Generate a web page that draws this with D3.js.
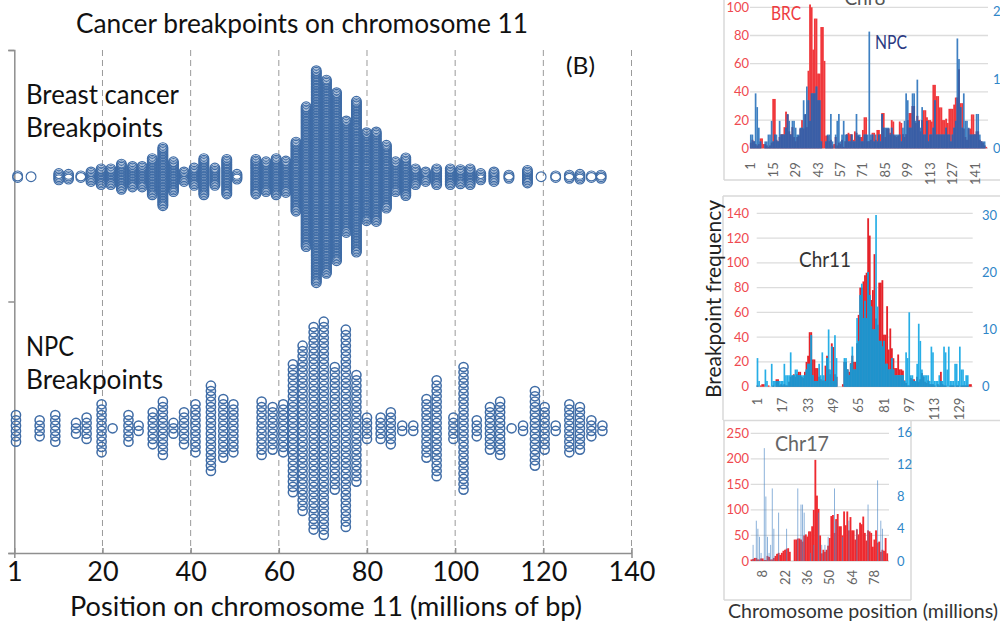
<!DOCTYPE html>
<html><head><meta charset="utf-8">
<script src="https://cdn.jsdelivr.net/npm/d3@7/dist/d3.min.js"></script>
<style>html,body{margin:0;padding:0;background:#fff;overflow:hidden}svg{display:block}text{font-family:Lato,"Open Sans",sans-serif}</style>
</head><body><svg id="c" width="1000" height="622"></svg>
<script>
// Main dot plot: column position (millions of bp) and number of breakpoints stacked in it
const brcPos=[0.76,3.8,10.1,12.3,15.1,17.4,19.7,21.9,24.3,26.8,29.0,31.3,33.7,36.1,38.5,40.8,43.0,45.5,48.2,50.5,54.8,57.1,59.4,61.6,63.9,66.2,68.5,70.8,73.1,75.3,77.6,79.9,82.1,84.4,86.5,88.8,91.0,93.3,95.8,98.9,101.2,103.4,105.8,108.8,112.2,116.4,119.5,122.8,125.9,128.3,130.9,133.1];
const brcCount=[2,1,5,4,2,7,11,11,17,14,14,24,38,20,7,12,24,12,23,4,23,20,24,21,45,90,136,124,108,72,97,57,58,41,20,25,11,7,11,11,10,11,5,7,3,9,1,2,3,4,2,3];
const npcPos=[0.38,5.75,9.3,14.0,16.4,19.8,22.3,25.9,28.2,31.4,33.7,36.1,38.5,41.1,44.6,47.4,49.7,56.1,58.6,61.0,63.2,65.4,67.9,70.2,72.7,75.2,77.6,80.0,83.1,85.4,88.0,90.5,93.5,95.8,99.6,101.9,104.9,107.9,110.2,112.8,115.4,118.1,120.3,122.8,125.9,128.3,130.9,133.4];
const npcCount=[6,4,6,3,5,10,1,6,2,7,11,3,7,10,17,12,10,11,9,10,25,32,39,41,24,38,21,5,5,7,2,2,12,19,5,24,4,9,11,1,2,15,9,2,10,9,4,2];
const xTickValues=[0,20,40,60,80,100,120,140];
const xTickLabels=["1","20","40","60","80","100","120","140"];

// Chr8 panel
const chr8Red=[4,6,5,3,2,3,7,7,3,3,2,1,2,4,35,35,6,5,8,10,10,15,26,24,12,10,15,8,5,8,9,14,20,14,24,15,55,102,100,70,92,92,53,53,86,86,62,9,9,5,6,2,3,8,2,4,3,6,1,5,10,11,10,10,6,12,11,9,8,8,13,22,22,5,5,6,11,11,6,13,13,10,25,25,8,14,14,11,20,19,9,8,9,19,18,10,8,10,20,25,25,30,30,18,23,20,12,20,27,27,22,20,20,19,45,45,37,37,29,29,20,20,21,18,28,28,28,31,36,36,56,32,32,14,8,6,14,14,24,24,10,12,12,6,5,4,2,1];
const chr8Blue=[2,2,1,8,6,3,1,0,0,1,1,2,2,4,1,2,2,1,4,2,2,2,3,5,4,2,4,4,3,2,2,3,3,7,5,9,7,4,8,8,8,9,7,7,1,0,0,1,2,2,5,1,0,2,4,5,1,2,4,2,2,1,1,2,1,1,5,2,2,1,1,2,2,2,17,2,2,1,2,1,2,1,5,3,3,3,3,2,3,2,2,2,2,2,1,3,4,8,7,3,3,8,8,4,10,4,3,6,2,2,4,1,2,2,3,7,2,2,2,2,2,2,3,2,2,1,2,3,4,16,13,6,3,8,4,4,3,2,2,2,2,5,5,2,1,1,1,0];
const chr8RedTicks=[0,20,40,60,80,100], chr8BlueTicks=[0,10,20], chr8Cats=[1,15,29,43,57,71,85,99,113,127,141];
// Chr11 panel
const chr11Red=[1,0,1,2,2,0,0,1,0,0,1,0,6,6,1,2,1,2,1,1,4,8,9,10,8,10,12,12,8,7,12,20,25,44,44,22,22,15,15,8,6,5,5,17,25,14,10,35,32,10,8,0,0,0,2,20,20,14,12,19,25,20,20,35,58,80,80,85,90,92,136,122,70,78,107,55,50,84,84,86,42,42,65,30,47,31,23,15,15,26,14,14,13,5,3,1,1,7,6,6,4,8,4,6,11,8,4,3,5,2,2,2,1,0,2,1,12,2,1,1,0,0,1,1,1,0,1,1,0,1,1,1,1,1,2,2];
const chr11Blue=[5,1,0,0,0,3,1,0,0,4,1,1,1,1,1,1,1,4,2,2,2,6,2,2,3,3,2,2,2,2,2,3,4,4,9,2,1,1,1,4,2,6,2,1,5,10,3,7,1,9,5,0,0,0,0,5,5,3,2,4,7,3,3,12,8,16,18,12,15,12,20,16,14,10,10,30,14,8,8,7,8,4,4,3,3,5,3,2,2,2,2,2,2,1,6,5,13,2,2,1,1,4,11,8,3,2,2,2,2,1,7,6,1,1,1,2,1,1,7,6,3,7,1,1,1,4,4,1,7,3,3,1,2,2,0,0];
const chr11RedTicks=[0,20,40,60,80,100,120,140], chr11BlueTicks=[0,10,20,30], chr11Cats=[1,17,33,49,65,81,97,113,129];
// Chr17 panel
const chr17Red=[3,4,6,6,3,3,5,5,2,2,10,8,3,3,6,10,14,16,12,16,20,22,24,25,18,0,0,42,42,44,44,42,38,50,52,48,58,58,68,100,198,128,102,50,15,22,18,22,30,45,88,90,55,82,92,68,68,50,97,70,97,60,86,60,60,42,62,52,75,72,87,55,40,60,58,55,28,42,60,36,38,18,22,20,45,15];
const chr17Blue=[0,2,0,5,4,3,1,0,14,8,3,1,2,9,4,0,0,6,0,0,0,0,4,0,0,0,0,0,0,9,0,7,7,6,0,0,0,1,0,2,0,0,6,0,2,0,2,0,3,0,0,0,9,5,0,0,0,3,0,0,0,5,0,0,0,0,4,0,0,0,0,0,0,7,0,0,0,0,0,10,0,5,4,0,0,0];
const chr17RedTicks=[0,50,100,150,200,250], chr17BlueTicks=[0,4,8,12,16], chr17Cats=[8,22,36,50,64,78];

const svg=d3.select("#c");
const x=d3.scaleLinear().domain([0,140]).range([14.3,631.5]);
const AXIS_BOTTOM=553, AXIS_TOP=50;
const INK="#111", GRID="#9a9a9a", DOT="#3f6ca6";

// grid and axes of the main plot
svg.append("g").selectAll("line").data(xTickValues.slice(1)).join("line")
  .attr("x1",d=>x(d)).attr("x2",d=>x(d)).attr("y1",AXIS_TOP).attr("y2",AXIS_BOTTOM)
  .attr("stroke",GRID).attr("stroke-width",1).attr("stroke-dasharray","6 4");
const yFrame=d3.scaleLinear().domain([0,2]).range([AXIS_BOTTOM,AXIS_TOP]);
const axL=svg.append("g").attr("transform",`translate(${x(0)},0)`)
  .call(d3.axisLeft(yFrame).tickValues([0,1,2]).tickSize(6).tickFormat(""));
axL.selectAll("path,line").attr("stroke","#8f8f8f").attr("stroke-width",1.5);
const axB=svg.append("g").attr("transform",`translate(0,${AXIS_BOTTOM})`)
  .call(d3.axisBottom(x).tickValues(xTickValues).tickSize(5).tickFormat((d,i)=>xTickLabels[i]));
axB.selectAll("path,line").attr("stroke","#8f8f8f").attr("stroke-width",1.5);
axB.selectAll("text").attr("fill",INK).attr("font-size",27).attr("y",28).attr("dy",0);
axB.selectAll(".tick line").attr("transform","translate(0,-5)");

function swarm(pos,count,center,step,sw,r){
  const rows=pos.flatMap((p,i)=>d3.range(count[i]).map(k=>({p,off:k-(count[i]-1)/2})));
  const y=d3.scaleLinear().domain([0,1]).range([center,center+step]);
  svg.append("g").selectAll("circle").data(rows).join("circle")
    .attr("cx",d=>x(d.p)).attr("cy",d=>y(d.off)).attr("r",r)
    .attr("fill","none").attr("stroke",DOT).attr("stroke-width",sw);
}
swarm(brcPos,brcCount,176.7,1.57,1.15,4.9);
swarm(npcPos,npcCount,428.3,5.33,1.5,4.6);

function label(t,lx,ly,size,o={}){
  const s=svg.append("text").attr("x",lx).attr("y",ly).attr("font-size",size)
    .attr("fill",o.fill||INK).attr("text-anchor",o.anchor||"start").text(t);
  if(o.rotate) s.attr("transform",`rotate(${o.rotate} ${lx} ${ly})`);
  if(o.len) s.attr("textLength",o.len).attr("lengthAdjust","spacingAndGlyphs");
  return s;
}
label("Cancer breakpoints on chromosome 11",302,33,26,{anchor:"middle",len:452});
label("(B)",566,74,24,{len:29});
label("Breast cancer",26,104,27,{len:153});
label("Breakpoints",26,137,27,{len:137});
label("NPC",26,356,27,{len:48});
label("Breakpoints",26,389,27,{len:137});
label("Position on chromosome 11 (millions of bp)",326,616,27,{anchor:"middle",len:512});

// panel frames
const FRAME="#d9d9d9";
function fr(x1,y1,x2,y2){svg.append("line").attr("x1",x1).attr("y1",y1).attr("x2",x2).attr("y2",y2).attr("stroke",FRAME).attr("stroke-width",1.5);}
fr(724,0,724,180);fr(724,180,1000,180);
fr(723,196,723,420);fr(723,196,1000,196);fr(723,420.5,1000,420.5);
fr(724,421,724,600);fr(724,600,911,600);fr(911,421,911,600);

function panel(o){
  const n=o.red.length;
  const bx=d3.scaleBand().domain(d3.range(1,n+1)).range([o.x0,o.x1]).paddingInner(0);
  const yR=d3.scaleLinear().domain([0,o.redMax]).range([o.y0,o.yTop]);
  const yB=d3.scaleLinear().domain([0,o.blueMax]).range([o.y0,o.yTopB]);
  const g=svg.append("g");
  g.append("g").selectAll("line").data(o.redTicks).join("line")
    .attr("x1",o.x0).attr("x2",o.x1+1).attr("y1",d=>yR(d)).attr("y2",d=>yR(d))
    .attr("stroke","#dcdcdc").attr("stroke-width",1.3);
  const bars=(arr,yOf,fill,op,w)=>g.append("g").selectAll("rect").data(arr).join("rect")
    .attr("x",(d,i)=>bx(i+1)+(bx.bandwidth()-w)/2).attr("width",w)
    .attr("y",d=>yOf(d)).attr("height",d=>o.y0-yOf(d))
    .attr("fill",fill).attr("opacity",op);
  bars(o.red,yR,o.redColor,1,bx.bandwidth()+0.25);
  bars(o.blue,yB,o.blueColor,o.blueOp,o.blueW||bx.bandwidth()+0.1);
  if(o.overlap){
    const ov=o.red.map((r,i)=>Math.min(yR(0)-yR(r),yB(0)-yB(o.blue[i])));
    bars(ov,d=>o.y0-d,o.overlap,1,bx.bandwidth()+0.1);
  }
  g.append("g").selectAll("text").data(o.redTicks).join("text")
    .attr("x",749).attr("y",d=>yR(d)).attr("dy","0.35em").attr("text-anchor","end")
    .attr("font-size",13).attr("fill","#ef4a50").text(d=>d);
  g.append("g").selectAll("text").data(o.blueTicks).join("text")
    .attr("x",o.blueX).attr("y",d=>yB(d)).attr("dy","0.35em")
    .attr("font-size",13).attr("fill","#2f86c8").text(d=>d);
  g.append("g").selectAll("text").data(o.cats).join("text")
    .attr("transform",d=>`translate(${bx(d)+bx.bandwidth()/2},${o.y0+o.catGap}) rotate(-90)`)
    .attr("dy","0.35em").attr("text-anchor","end")
    .attr("font-size",13).attr("fill","#666").text(d=>d);
}
panel({red:chr8Red,blue:chr8Blue,x0:750,x1:987,y0:148.3,yTop:7.3,yTopB:11,redMax:100,blueMax:20,catGap:14,
  redTicks:chr8RedTicks,blueTicks:chr8BlueTicks,cats:chr8Cats,blueX:993,
  redColor:"#f0383c",blueColor:"#3f80c2",blueOp:1,overlap:"#3a5ea6"});
panel({red:chr11Red,blue:chr11Blue,x0:756.7,x1:971.7,y0:386.7,yTop:213.3,yTopB:215,redMax:140,blueMax:30,catGap:11,
  redTicks:chr11RedTicks,blueTicks:chr11BlueTicks,cats:chr11Cats,blueX:982,
  redColor:"#e5232a",blueColor:"#27aee6",blueOp:1,overlap:"#1f93cc"});
panel({red:chr17Red,blue:chr17Blue,x0:750.7,x1:888,y0:561,yTop:433.3,yTopB:432,redMax:250,blueMax:16,catGap:9,
  redTicks:chr17RedTicks,blueTicks:chr17BlueTicks,cats:chr17Cats,blueX:897,
  redColor:"#ee2a30",blueColor:"#4a86c4",blueOp:.7,blueW:0.9});

label("BRC",771,20,20,{fill:"#ee3b3f",len:30});
label("NPC",875,49,20,{fill:"#2b3a82",len:32});
label("Chr8",865,5,19,{fill:"#555",anchor:"middle"});
label("Chr11",799,267,22,{fill:"#333",len:52});
label("Chr17",775,451,22,{fill:"#666",len:54});
label("Breakpoint frequency",721,299,22,{rotate:-90,anchor:"middle",fill:"#222",len:198});
label("Chromosome position (millions)",728,618,19,{fill:"#333",len:270});
</script></body></html>
